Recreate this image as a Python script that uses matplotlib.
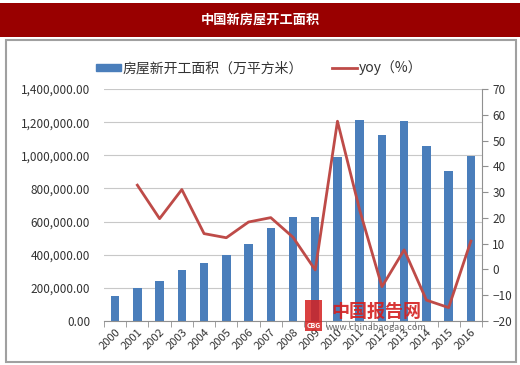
import matplotlib
matplotlib.use("Agg")
import matplotlib.pyplot as plt
import matplotlib.ticker as mticker
from matplotlib.patches import Rectangle
from matplotlib.lines import Line2D

plt.rcParams['font.family'] = ['Noto Sans CJK SC', 'DejaVu Sans']

# ── data ──────────────────────────────────────────────────────────────────────
years = ["2000", "2001", "2002", "2003", "2004", "2005", "2006", "2007", "2008",
         "2009", "2010", "2011", "2012", "2013", "2014", "2015", "2016"]
area = [152000, 200000, 240000, 308000, 353000, 400000, 463000, 561000, 627000,
        625000, 990000, 1212000, 1120000, 1208000, 1058000, 903000, 993000]
yoy_years = years[1:]
yoy = [32.7, 19.7, 31.0, 13.9, 12.3, 18.4, 20.1, 12.5, -0.2,
       57.5, 23.0, -6.7, 7.6, -11.9, -14.8, 11.0]

title = "中国新房屋开工面积"
bar_label = "房屋新开工面积（万平方米）"
line_label = "yoy（%）"

BAR_COLOR = "#4A7EBB"
LINE_COLOR = "#BE4B48"
TITLE_BG = "#990000"
TEXT_COLOR = "#333333"

fig = plt.figure(figsize=(5.2, 3.65), dpi=100)

# background: title bar + chart frame (pixel coords)
bg = fig.add_axes([0, 0, 1, 1], zorder=-1)
bg.set_xlim(0, 520)
bg.set_ylim(365, 0)
bg.axis("off")
bg.add_patch(Rectangle((0, 3), 520, 34, facecolor=TITLE_BG, edgecolor="none"))
bg.text(260, 20, title, color="white", fontsize=9.5, fontweight="bold",
        ha="center", va="center")
bg.add_patch(Rectangle((6, 40), 510, 322, facecolor="white", edgecolor="#A0A0A0", lw=1.5))

ax = fig.add_axes([104 / 520, 1 - 321 / 365, 378 / 520, 232 / 365])
ax.set_facecolor("none")
x = list(range(len(years)))
ax.bar(x, area, width=0.38, color=BAR_COLOR, zorder=2)
ax.set_xlim(-0.5, len(years) - 0.5)
ax.set_ylim(0, 1400000)
ax.yaxis.set_major_locator(mticker.MultipleLocator(200000))
ax.yaxis.set_major_formatter(mticker.FuncFormatter(lambda v, p: f"{v:,.2f}"))
ax.grid(axis="y", color="#C8C8C8", lw=0.8, zorder=0)
ax.set_xticks(x)
ax.set_xticklabels(years, rotation=45, ha="right", rotation_mode="anchor")
ax.set_xticks([i + 0.5 for i in range(-1, len(years))], minor=True)
ax.tick_params(axis="x", which="major", length=0, labelsize=8, colors=TEXT_COLOR, pad=4)
ax.tick_params(axis="x", which="minor", length=4, color="#909090")
ax.tick_params(axis="y", length=0, labelsize=8.5, colors=TEXT_COLOR, pad=10)
for s in ("top", "right", "left"):
    ax.spines[s].set_visible(False)
ax.spines["bottom"].set_color("#909090")

ax2 = ax.twinx()
ax2.plot([years.index(y) for y in yoy_years], yoy, color=LINE_COLOR, lw=2, zorder=3)
ax2.set_ylim(-20, 70)
ax2.yaxis.set_major_locator(mticker.MultipleLocator(10))
ax2.tick_params(axis="y", length=4, color="#909090", labelsize=8.5, colors=TEXT_COLOR)
for s in ("top", "left", "bottom"):
    ax2.spines[s].set_visible(False)
ax2.spines["right"].set_color("#909090")

handles = [Rectangle((0, 0), 1, 1, color=BAR_COLOR, label=bar_label),
           Line2D([0], [0], color=LINE_COLOR, lw=2, label=line_label)]
fig.legend(handles=handles, loc="center", bbox_to_anchor=(259 / 520, 1 - 68 / 365), ncol=2,
           frameon=False, fontsize=10, handlelength=1.8, handleheight=0.45,
           columnspacing=2.1, handletextpad=0.1, labelcolor=TEXT_COLOR)

# watermark
wm = fig.add_axes([0, 0, 1, 1], zorder=5)
wm.set_xlim(0, 520)
wm.set_ylim(365, 0)
wm.axis("off")
wm.add_patch(Rectangle((305, 300), 17, 31, facecolor="#D42020", edgecolor="none", alpha=0.85))
wm.text(313.5, 325, "CBG", color="white", fontsize=5, fontweight="bold",
        ha="center", va="center")
wm.text(376, 311, "中国报告网", color="#D42020", fontsize=13, fontweight="bold",
        ha="center", va="center", alpha=0.9)
wm.text(376, 328, "www.chinabaogao.com", color="#555555", fontsize=6.5,
        ha="center", va="center", alpha=0.9)

fig.savefig("out.png", dpi=100)
